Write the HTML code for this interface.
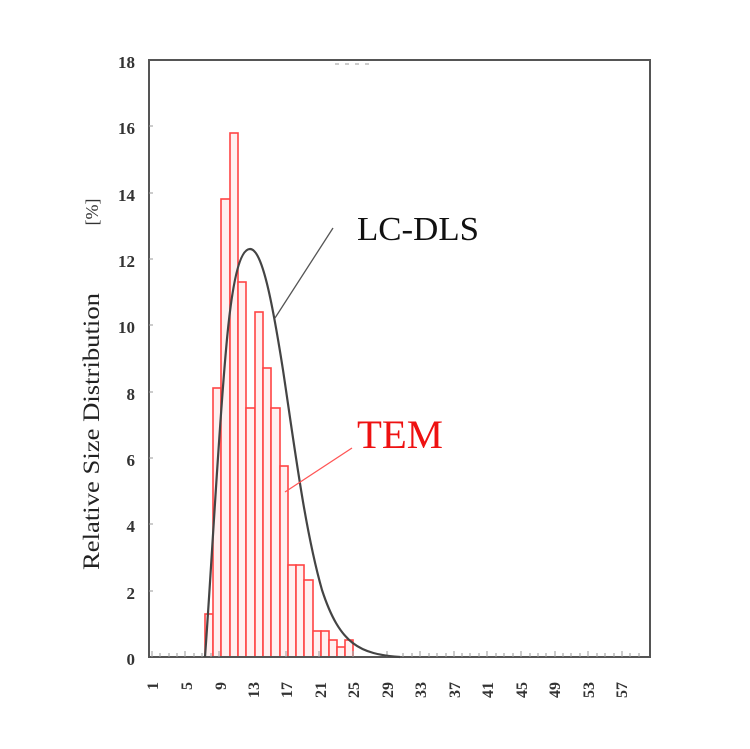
<!DOCTYPE html>
<html><head><meta charset="utf-8"><style>
html,body{margin:0;padding:0;background:#fff;}
svg{display:block;}
</style></head><body>
<svg width="750" height="749" viewBox="0 0 750 749" xmlns="http://www.w3.org/2000/svg" font-family="Liberation Serif, serif">
<rect width="750" height="749" fill="#fff"/>
<!-- bars -->
<g fill="#fff0f0" stroke="#f44" stroke-width="1.6">
<rect x="205" y="614" width="8" height="43"/>
<rect x="213" y="388" width="8" height="269"/>
<rect x="221" y="199" width="9" height="458"/>
<rect x="230" y="133" width="8" height="524"/>
<rect x="238" y="282" width="8" height="375"/>
<rect x="246" y="408" width="9" height="249"/>
<rect x="255" y="312" width="8" height="345"/>
<rect x="263" y="368" width="8" height="289"/>
<rect x="271" y="408" width="9" height="249"/>
<rect x="280" y="466" width="8" height="191"/>
<rect x="288" y="565" width="8" height="92"/>
<rect x="296" y="565" width="8" height="92"/>
<rect x="304" y="580" width="9" height="77"/>
<rect x="313" y="631" width="8" height="26"/>
<rect x="321" y="631" width="8" height="26"/>
<rect x="329" y="640" width="8" height="17"/>
<rect x="337" y="647" width="8" height="10"/>
<rect x="345" y="640" width="8" height="17"/>
</g>
<!-- frame -->
<rect x="149" y="60" width="501" height="597" fill="none" stroke="#555" stroke-width="2"/>
<g stroke="#999" stroke-width="1">
<path d="M152 657v-6M160 657v-4M169 657v-4M177 657v-4M185 657v-6M194 657v-4M202 657v-4M211 657v-4M219 657v-6M286 657v-6M319 657v-6M353 657v-6M387 657v-6M420 657v-6M454 657v-6M487 657v-6M521 657v-6M555 657v-6M588 657v-6M622 657v-6M403 657v-4M412 657v-4M429 657v-4M437 657v-4M446 657v-4M462 657v-4M470 657v-4M479 657v-4M496 657v-4M504 657v-4M513 657v-4M530 657v-4M538 657v-4M546 657v-4M563 657v-4M571 657v-4M580 657v-4M597 657v-4M605 657v-4M614 657v-4M630 657v-4M639 657v-4"/>
<path d="M149 126h4M149 193h4M149 259h4M149 325h4M149 392h4M149 458h4M149 524h4M149 591h4"/>
<path d="M335 64h4M345 64h4M355 64h4M365 64h4"/>
</g>
<!-- curve -->
<path d="M205 657 C212 560 218 440 226 350 C232 280 240 249 250 249 C262 249 272 300 283 370 C295 450 305 530 322 590 C340 645 360 654 400 657" fill="none" stroke="#444" stroke-width="2.2" stroke-linejoin="round"/>
<!-- leaders -->
<line x1="333" y1="228" x2="275" y2="318" stroke="#555" stroke-width="1.3"/>
<line x1="352" y1="448" x2="285" y2="492" stroke="#f55" stroke-width="1.3"/>
<text x="357" y="240" font-size="34" fill="#111" textLength="122" lengthAdjust="spacingAndGlyphs">LC-DLS</text>
<text x="357" y="448" font-size="40" fill="#e11" textLength="86" lengthAdjust="spacingAndGlyphs">TEM</text>
<!-- y ticks -->
<g font-size="17" font-weight="bold" fill="#333" text-anchor="end">
<text x="135" y="665">0</text><text x="135" y="599">2</text><text x="135" y="532">4</text>
<text x="135" y="466">6</text><text x="135" y="400">8</text><text x="135" y="333">10</text>
<text x="135" y="267">12</text><text x="135" y="201">14</text><text x="135" y="134">16</text>
<text x="135" y="68">18</text>
</g>
<text transform="translate(98,212) rotate(-90)" font-size="18" fill="#333" text-anchor="middle">[%]</text>
<text transform="translate(99,570) rotate(-90)" font-size="23" fill="#222" textLength="277" lengthAdjust="spacingAndGlyphs">Relative Size Distribution</text>
<!-- x ticks -->
<g font-size="16" font-weight="bold" fill="#333">
<text transform="translate(158,682) rotate(-90)" text-anchor="end">1</text>
<text transform="translate(192,682) rotate(-90)" text-anchor="end">5</text>
<text transform="translate(226,682) rotate(-90)" text-anchor="end">9</text>
<text transform="translate(259,682) rotate(-90)" text-anchor="end">13</text>
<text transform="translate(292,682) rotate(-90)" text-anchor="end">17</text>
<text transform="translate(326,682) rotate(-90)" text-anchor="end">21</text>
<text transform="translate(359,682) rotate(-90)" text-anchor="end">25</text>
<text transform="translate(393,682) rotate(-90)" text-anchor="end">29</text>
<text transform="translate(426,682) rotate(-90)" text-anchor="end">33</text>
<text transform="translate(460,682) rotate(-90)" text-anchor="end">37</text>
<text transform="translate(493,682) rotate(-90)" text-anchor="end">41</text>
<text transform="translate(527,682) rotate(-90)" text-anchor="end">45</text>
<text transform="translate(560,682) rotate(-90)" text-anchor="end">49</text>
<text transform="translate(594,682) rotate(-90)" text-anchor="end">53</text>
<text transform="translate(627,682) rotate(-90)" text-anchor="end">57</text>
</g>
</svg>
</body></html>
